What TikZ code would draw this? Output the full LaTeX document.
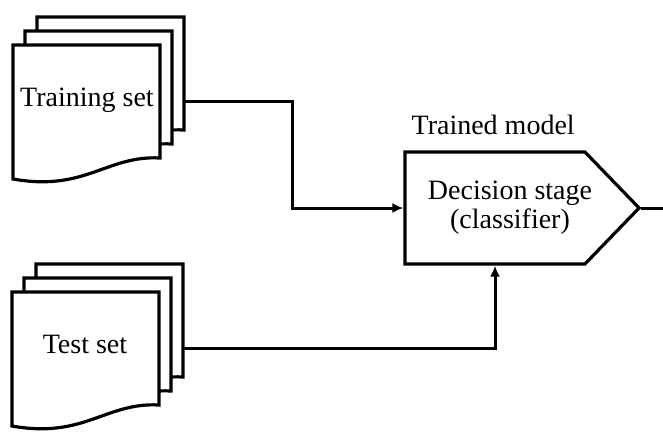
\documentclass[tikz,border=0pt]{standalone}
\usepackage{fontspec}
\setmainfont{Liberation Serif}
\usepackage{tikz}
\usetikzlibrary{arrows.meta}
\usetikzlibrary{shapes.symbols}

\tikzset{
  sheet/.style={draw, line width=3.2pt, fill=white, line join=miter},
  doclabel/.style={anchor=base, inner sep=0pt},
  link/.style={line width=3pt, -{Latex[length=11pt,width=10pt]}},
}

% one page: top left corner at (#1,#2), wavy lower edge
\newcommand{\sheet}[2]{%
  \begin{scope}[shift={(#1,#2)}]
    \draw[sheet] (0,0) -- (147,0) -- (147,113)
      .. controls (94,110) and (72,147) .. (0,134) -- cycle;
  \end{scope}}

% three pages, each one up and to the right of the one before
\newcommand{\sheetstack}[2]{%
  \begin{scope}[shift={(#1,#2)}]
    \foreach \k in {2,1,0} {\sheet{12*\k}{-14*\k}}
  \end{scope}}

\begin{document}
\begin{tikzpicture}[x=1pt, y=-1pt, font=\fontsize{28}{29}\selectfont]
    \useasboundingbox (0,0) rectangle (663,431);
    %
    \sheetstack{13}{45}
    \sheetstack{12}{292}
    \node[doclabel] (train) at (87,106) {Training set};
    \node[doclabel] (test) at (85,353) {Test set};
    %
    \node[signal, signal to=east, signal pointer angle=92, draw,
          line width=3.2pt, minimum width=234pt, minimum height=112pt,
          inner sep=0pt] (dec) at (495,208) {};
    \node[align=center, inner sep=0pt] (dectext) at (510,208)
      {Decision stage\\(classifier)};
    \node[anchor=base west, inner sep=0pt] (model)
      at ([xshift=8pt,yshift=16pt]dec.north west) {Trained model};
    %
    \coordinate (trainout) at (183,101);
    \coordinate (testout) at (182,348);
    \coordinate (result) at (663,208);
    \draw[link] (trainout) -- ++(109,0) |- (dec.west);
    \draw[link] (testout) -| (dec.south);
    \draw[line width=3pt] (dec.east) -- (result);
\end{tikzpicture}
\end{document}
